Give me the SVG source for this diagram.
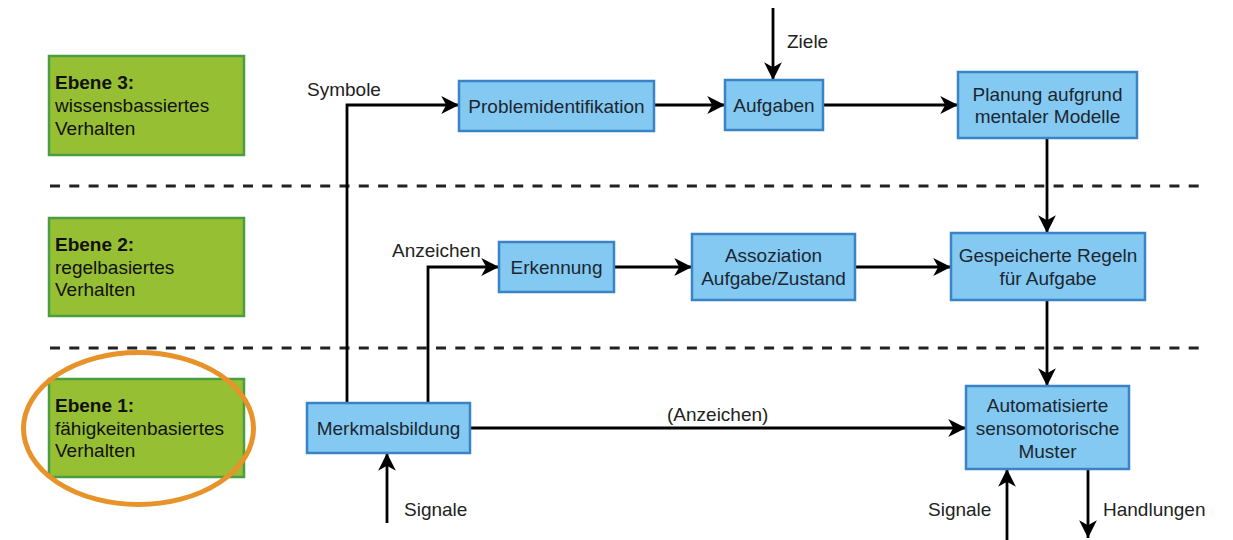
<svg xmlns="http://www.w3.org/2000/svg" width="1233" height="540" viewBox="0 0 1233 540">
  <style>
    text { font-family: "Liberation Sans", Arial, sans-serif; font-size: 19px; }
    .level rect { fill: #97bf33; stroke: #4a9e3f; stroke-width: 2.5; }
    .level text { fill: #111; }
    .level .title { font-weight: bold; }
    .proc rect { fill: #84c9f2; stroke: #3a84c6; stroke-width: 2.5; }
    .proc text { fill: #1c2630; text-anchor: middle; }
    .lbl { fill: #222; }
    .edge { fill: none; stroke: #000; stroke-width: 2.8; }
    .sep { stroke: #222; stroke-width: 3; stroke-dasharray: 10 9.3; }
  </style>
  <defs>
    <marker id="arrow" markerUnits="userSpaceOnUse" markerWidth="20" markerHeight="20" viewBox="-17 -9 18 18" refX="0" refY="0" orient="auto">
      <path d="M0,0 L-16,-8 L-11.5,0 L-16,8 Z" fill="#000"/>
    </marker>
  </defs>

  <!-- level separators -->
  <line class="sep" x1="50" y1="186" x2="1202" y2="186"/>
  <line class="sep" x1="50" y1="348" x2="1202" y2="348"/>

  <!-- level labels -->
  <g id="ebene3" class="level">
    <rect x="49" y="56" width="195" height="99"/>
    <text x="55" y="89" class="title">Ebene 3:</text>
    <text x="55" y="112">wissensbassiertes</text>
    <text x="55" y="134.5">Verhalten</text>
  </g>
  <g id="ebene2" class="level">
    <rect x="49" y="218" width="195" height="98"/>
    <text x="55" y="250.5" class="title">Ebene 2:</text>
    <text x="55" y="273.5">regelbasiertes</text>
    <text x="55" y="296">Verhalten</text>
  </g>
  <g id="ebene1" class="level">
    <rect x="49" y="379" width="195" height="98"/>
    <text x="55" y="411.5" class="title">Ebene 1:</text>
    <text x="55" y="434.5">fähigkeitenbasiertes</text>
    <text x="55" y="457">Verhalten</text>
  </g>

  <!-- highlight around level 1 -->
  <ellipse id="highlight" cx="138.5" cy="428.5" rx="115" ry="76" fill="none" stroke="#e8922a" stroke-width="5"/>

  <!-- connectors -->
  <g id="connectors">
    <path class="edge" d="M347,403 V105 H459" marker-end="url(#arrow)"/>
    <path class="edge" d="M428,403 V267 H499" marker-end="url(#arrow)"/>
    <path class="edge" d="M470,428 H966" marker-end="url(#arrow)"/>
    <path class="edge" d="M387,523 V453" marker-end="url(#arrow)"/>
    <path class="edge" d="M654,105 H725" marker-end="url(#arrow)"/>
    <path class="edge" d="M773,8 V80" marker-end="url(#arrow)"/>
    <path class="edge" d="M823,105 H958" marker-end="url(#arrow)"/>
    <path class="edge" d="M1047,138 V233" marker-end="url(#arrow)"/>
    <path class="edge" d="M614,267 H692" marker-end="url(#arrow)"/>
    <path class="edge" d="M855,267 H951" marker-end="url(#arrow)"/>
    <path class="edge" d="M1047,300 V386" marker-end="url(#arrow)"/>
    <path class="edge" d="M1007,540 V469" marker-end="url(#arrow)"/>
    <path class="edge" d="M1088,469 V538" marker-end="url(#arrow)"/>
  </g>

  <!-- connector labels -->
  <g id="labels">
    <text class="lbl" x="307" y="96">Symbole</text>
    <text class="lbl" x="787" y="48">Ziele</text>
    <text class="lbl" x="392" y="257">Anzeichen</text>
    <text class="lbl" x="667" y="421">(Anzeichen)</text>
    <text class="lbl" x="404" y="516">Signale</text>
    <text class="lbl" x="928" y="516">Signale</text>
    <text class="lbl" x="1103" y="516">Handlungen</text>
  </g>

  <!-- process nodes -->
  <g id="problemidentifikation" class="proc">
    <rect x="459" y="81" width="195" height="50"/>
    <text x="556.5" y="112.5">Problemidentifikation</text>
  </g>
  <g id="aufgaben" class="proc">
    <rect x="725" y="80" width="98" height="50"/>
    <text x="774" y="111.5">Aufgaben</text>
  </g>
  <g id="planung" class="proc">
    <rect x="958" y="72" width="179" height="66"/>
    <text x="1047.5" y="100.5">Planung aufgrund</text>
    <text x="1047.5" y="123">mentaler Modelle</text>
  </g>
  <g id="erkennung" class="proc">
    <rect x="499" y="242" width="115" height="50"/>
    <text x="556.5" y="273.5">Erkennung</text>
  </g>
  <g id="assoziation" class="proc">
    <rect x="692" y="234" width="163" height="66"/>
    <text x="773.5" y="262">Assoziation</text>
    <text x="773.5" y="285">Aufgabe/Zustand</text>
  </g>
  <g id="regeln" class="proc">
    <rect x="951" y="233" width="194" height="67"/>
    <text x="1048" y="261.5">Gespeicherte Regeln</text>
    <text x="1048" y="284.5">für Aufgabe</text>
  </g>
  <g id="merkmalsbildung" class="proc">
    <rect x="307" y="403" width="163" height="50"/>
    <text x="388.5" y="434.5">Merkmalsbildung</text>
  </g>
  <g id="automatisiert" class="proc">
    <rect x="966" y="386" width="163" height="83"/>
    <text x="1047.5" y="412">Automatisierte</text>
    <text x="1047.5" y="435">sensomotorische</text>
    <text x="1047.5" y="457.5">Muster</text>
  </g>
</svg>
